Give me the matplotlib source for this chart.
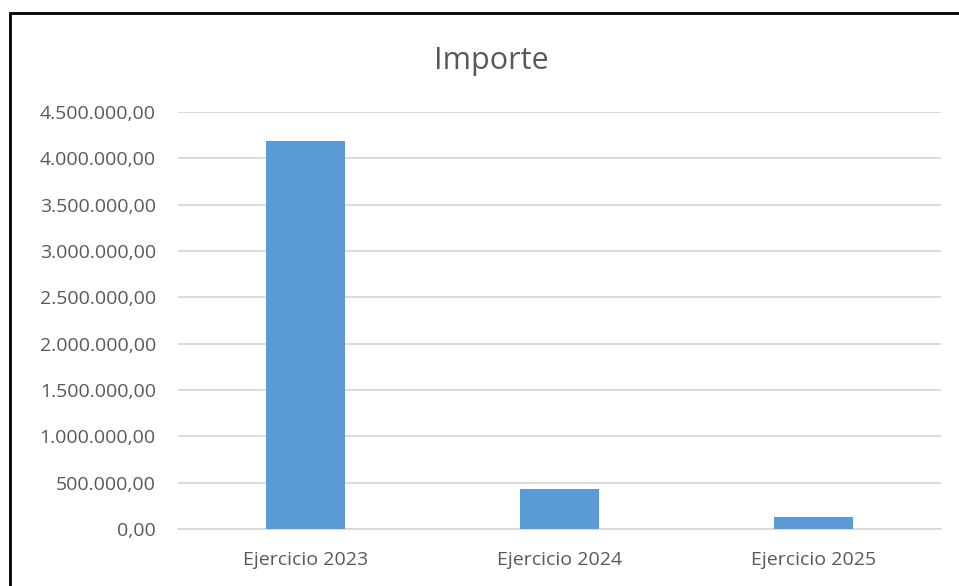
import matplotlib.pyplot as plt
from matplotlib.patches import Rectangle
from matplotlib.ticker import FuncFormatter

# datos del grafico
categorias = ['Ejercicio 2023', 'Ejercicio 2024', 'Ejercicio 2025']
importes = [4190000, 428000, 133000]
ticks_y = [0, 500000, 1000000, 1500000, 2000000, 2500000, 3000000, 3500000, 4000000, 4500000]

color_barra = '#5B9BD5'
color_texto = '#595959'
color_rejilla = '#D9D9D9'

plt.rcParams['font.family'] = ['Open Sans', 'DejaVu Sans']

fig = plt.figure(figsize=(9.59, 5.86), dpi=100)
ax = fig.add_axes([178 / 959, 1 - 529 / 586, (941 - 178) / 959, (529 - 112) / 586])

ax.bar(categorias, importes, width=0.31, color=color_barra, zorder=3)
ax.set_xlim(-0.5, 2.5)
ax.set_ylim(0, 4500000)
ax.set_yticks(ticks_y)


def formato_es(v, pos):
    # formato espanol: punto para miles, coma para decimales
    s = f'{v:,.2f}'
    return s.replace(',', 'X').replace('.', ',').replace('X', '.')


ax.yaxis.set_major_formatter(FuncFormatter(formato_es))
ax.grid(axis='y', color=color_rejilla, linewidth=1.3, zorder=0)
for lado in ['top', 'right', 'left']:
    ax.spines[lado].set_visible(False)
ax.spines['bottom'].set_color(color_rejilla)
ax.spines['bottom'].set_linewidth(1.3)
ax.tick_params(axis='both', length=0, colors=color_texto, labelsize=14)
ax.tick_params(axis='y', pad=16)
ax.tick_params(axis='x', pad=16)

fig.text(491 / 959, 1 - 61 / 586, 'Importe', ha='center', va='center',
         fontsize=22, color=color_texto)

# marco negro alrededor de la figura
fig.patches.append(Rectangle((9.5 / 959, -0.1), 1.2, 1 - 12.5 / 586 + 0.1,
                             transform=fig.transFigure, fill=False,
                             edgecolor='black', linewidth=2, clip_on=False))

plt.savefig('out.png', dpi=100)
